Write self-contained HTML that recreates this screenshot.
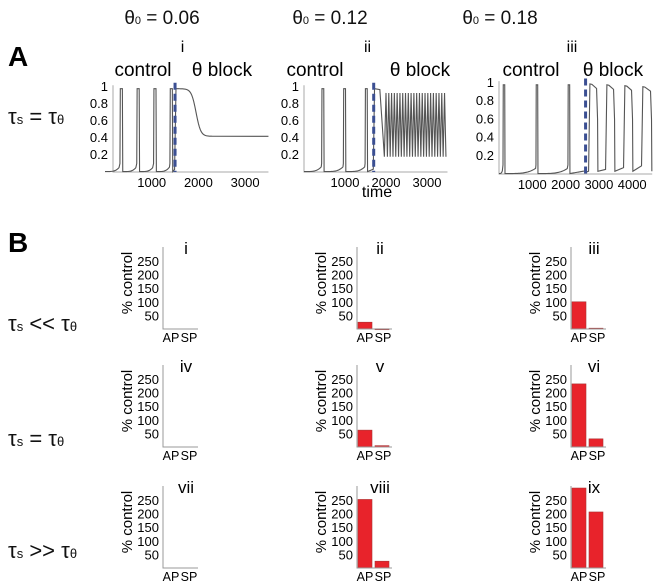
<!DOCTYPE html>
<html><head><meta charset="utf-8"><style>
body{margin:0;background:#fff}
svg{display:block;font-family:"Liberation Sans",sans-serif}
</style></head><body>
<svg id="fig" width="655" height="585" viewBox="0 0 655 585">
<g font-size="19" text-anchor="middle" fill="#111">
<text x="162" y="24">θ<tspan font-size="11">0</tspan> = 0.06</text>
<text x="330" y="24">θ<tspan font-size="11">0</tspan> = 0.12</text>
<text x="500" y="24">θ<tspan font-size="11">0</tspan> = 0.18</text>
</g>
<text x="8" y="66" font-size="28" font-weight="bold">A</text>
<text x="8" y="252" font-size="28" font-weight="bold">B</text>
<g font-size="22" fill="#111">
<text x="8" y="124">τ<tspan font-size="13">s</tspan> = τ<tspan font-size="13">θ</tspan></text>
<text x="8" y="331">τ<tspan font-size="13">s</tspan> &lt;&lt; τ<tspan font-size="13">θ</tspan></text>
<text x="8" y="446">τ<tspan font-size="13">s</tspan> = τ<tspan font-size="13">θ</tspan></text>
<text x="8" y="558">τ<tspan font-size="13">s</tspan> &gt;&gt; τ<tspan font-size="13">θ</tspan></text>
</g>
<g id="A"></g><g id="B"></g>
</svg>
<script>
// Panel A data
const spikesI=[320,680,1040,1390];
const spikesII=[430,960,1490];
const spikesIII=[120,1110,2070];
const blockTimes=[1500,1700,2600];
const xTicksA=[[1000,2000,3000],[1000,2000,3000],[1000,2000,3000,4000]];
const yTicksA=[0.2,0.4,0.6,0.8,1];
const plateauI=0.42;
const oscII=[0.18,0.93];
const burstsIII=[[2730,2970],[3240,3480],[3780,4020],[4320,4590]];
// Panel B data
const barCats=["AP","SP"];
const romans=["i","ii","iii","iv","v","vi","vii","viii","ix"];
const barAP=[0,25,100,0,62,232,0,252,294];
const barSP=[0,1,3,0,5,30,0,25,206];
const yTicksB=[50,100,150,200,250];

const NS="http://www.w3.org/2000/svg";
function el(t,a,p){const e=document.createElementNS(NS,t);for(const k in a)e.setAttribute(k,a[k]);p.appendChild(e);return e;}
const A=document.getElementById('A'),B=document.getElementById('B');

const panels=[
 {x0:105,k:0.0467,tmax:3500,base:172,ky:85,axX:113,spikes:spikesI,block:blockTimes[0],rom:"i",cx:143,bx:222,time:false},
 {x0:304,k:0.041,tmax:3500,base:172,ky:85,axX:304,spikes:spikesII,block:blockTimes[1],rom:"ii",cx:315,bx:420,time:true},
 {x0:499,k:0.0333,tmax:4600,base:174,ky:91,axX:499,spikes:spikesIII,block:blockTimes[2],rom:"iii",cx:531,bx:613,time:false}];

function trace(p,idx){
 const pts=[];const X=t=>p.x0+t*p.k, Y=v=>p.base-v*p.ky;
 const w=60;
 let prev=0;
 function spike(t){
   const seg=[];
   for(let s=prev;s<t;s+=20){const f=(s-prev)/(t-prev);seg.push([s,0.005+0.06*Math.pow(f,4)]);}
   seg.push([t,0.1],[t+8,0.98],[t+w-8,0.98],[t+w,0.02]);prev=t+w;return seg;}
 p.spikes.forEach(t=>pts.push(...spike(t)));
 const b=p.block;
 for(let s=prev;s<b;s+=20)pts.push([s,0.005+0.03*((s-prev)/(b-prev))]);
 if(idx===0){pts.push([b+20,0.98]);
   for(let t=b+40;t<=b+800;t+=20){const s=1/(1+Math.exp(-(t-(b+450))/50));pts.push([t,0.98-(0.98-plateauI)*s]);}
   pts.push([p.tmax,plateauI]);}
 else if(idx===1){pts.push([b+20,0.98],[b+150,0.97],[b+230,0.4],[b+260,oscII[0]]);
   for(let t=b+300;t<p.tmax-30;t+=68){pts.push([t,oscII[1]],[t+34,oscII[0]]);}}
 else{pts.push([b+10,0.02]);burstsIII.forEach(([a,e],i)=>{pts.push([a-40,0.03+0.02*i],[a,0.99-0.01*i],[a+60,0.985-0.01*i],[e-40,0.94-0.01*i],[e-10,0.6],[e,0.03]);});}
 return pts.map(q=>[X(q[0]),Y(q[1])]);
}

panels.forEach((p,i)=>{
 const g=el('g',{},A);
 
 
 const X=t=>p.x0+t*p.k, Y=v=>p.base-v*p.ky;
 const ax=el('path',{d:`M${p.axX} ${Y(1.02)}V${p.base}H${X(p.tmax)}`,stroke:'#aaa',fill:'none','stroke-width':1},g);
 
 yTicksA.forEach(v=>{const t=el('text',{x:p.axX-5,y:Y(v)+4,'font-size':13,'text-anchor':'end'},g);t.textContent=v==1?'1':String(v);
  });
 xTicksA[i].forEach(v=>{const t=el('text',{x:X(v),y:p.base+15,'font-size':13,'text-anchor':'middle'},g);t.textContent=v;
  });
 const ln=el('polyline',{points:trace(p,i).map(q=>q.join(',')).join(' '),fill:'none',stroke:'#555','stroke-width':1.1},g);
 
 const d=el('line',{x1:X(p.block),x2:X(p.block),y1:Y(1.05),y2:p.base,stroke:'#3b4f92','stroke-width':3,'stroke-dasharray':'7,4'},g);
 
 const r=el('text',{x:(p.cx+p.bx)/2,y:52,'font-size':16,'text-anchor':'middle'},g);r.textContent=p.rom;
 
 const c=el('text',{x:p.cx,y:76,'font-size':19,'text-anchor':'middle'},g);c.textContent='control';
 
 const bl=el('text',{x:p.bx,y:76,'font-size':19,'text-anchor':'middle'},g);bl.textContent='θ block';
 
 if(p.time){const tt=el('text',{x:377,y:197,'font-size':16,'text-anchor':'middle'},g);tt.textContent='time';
  }
});

const colX=[163,357,571], rowBase=[329,447,568], ky=0.272;
romans.forEach((rn,i)=>{
 const ax0=colX[i%3], base=rowBase[Math.floor(i/3)];
 const Y=v=>base-v*ky;
 const g=el('g',{},B);
 
 
 const vals=[barAP[i],barSP[i]];
 vals.forEach((v,j)=>{ if(v<=0)return;
  const r=el('rect',{x:ax0+1+j*17,y:Y(v),width:14,height:Math.max(v*ky,1),fill:'#e8232b',stroke:'#a33','stroke-width':0.6},g);
  });
 const a=el('path',{d:`M${ax0} ${base-82}V${base}H${ax0+35}`,stroke:'#999',fill:'none','stroke-width':1},g);
 
 yTicksB.forEach(v=>{const t=el('text',{x:ax0-4,y:Y(v)+5,'font-size':13,'text-anchor':'end'},g);t.textContent=v;
  });
 barCats.forEach((c,j)=>{const t=el('text',{x:ax0+8+j*18,y:base+13,'font-size':12.5,'text-anchor':'middle'},g);t.textContent=c;
  });
 const tl=el('text',{x:ax0+23,y:base-75,'font-size':17,'text-anchor':'middle'},g);tl.textContent=rn;
 
 const yl=el('text',{x:0,y:0,'font-size':15,'text-anchor':'middle',transform:`translate(${ax0-31},${base-46}) rotate(-90)`},g);yl.textContent='% control';
 
});
</script>
</body></html>
